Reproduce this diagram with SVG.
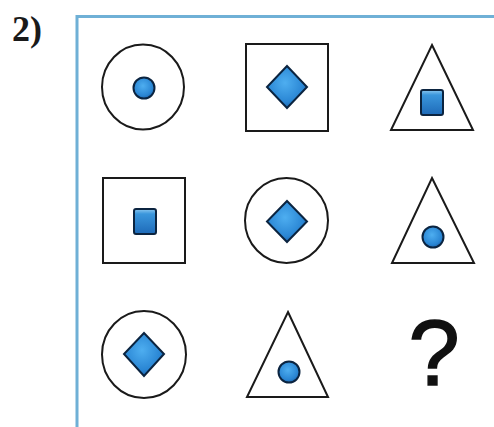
<svg xmlns="http://www.w3.org/2000/svg" width="494" height="427" viewBox="0 0 494 427">
<defs>
<radialGradient id="gb" cx="0.45" cy="0.4" r="0.65">
<stop offset="0" stop-color="#4eaef0"/>
<stop offset="0.7" stop-color="#2a86d4"/>
<stop offset="1" stop-color="#1a5fa8"/>
</radialGradient>
<linearGradient id="gs" x1="0" y1="0" x2="0" y2="1">
<stop offset="0" stop-color="#8cc8f0"/>
<stop offset="0.2" stop-color="#3a96dc"/>
<stop offset="1" stop-color="#1e6ab8"/>
</linearGradient>
</defs>
<style>
.fig{fill:none;stroke:#1a1a1a;stroke-width:2}
.blue{fill:url(#gb);stroke:#0b2440;stroke-width:2}
.blues{fill:url(#gs);stroke:#0b2440;stroke-width:2}
.frame{fill:none;stroke:#6fb0d6;stroke-width:3}
</style>
<rect width="494" height="427" fill="#ffffff"/>
<text x="12" y="41" font-family="Liberation Serif, serif" font-weight="bold" font-size="36" fill="#1a1a1a">2)</text>
<path class="frame" d="M77 427 V16.5 H494"/>
<g id="r1c1"><ellipse class="fig" cx="143" cy="87" rx="41" ry="42.5"/><circle class="blue" cx="144" cy="88" r="10.5"/></g>
<g id="r1c2"><rect class="fig" x="246" y="44" width="82" height="87"/><polygon class="blue" points="287,66 307,87 287,108 267,87"/></g>
<g id="r1c3"><polygon class="fig" points="432,45 473,130 391,130"/><rect class="blues" x="421" y="90" width="22" height="25" rx="2"/></g>
<g id="r2c1"><rect class="fig" x="103" y="178" width="82" height="85"/><rect class="blues" x="134" y="209" width="22" height="25" rx="2"/></g>
<g id="r2c2"><ellipse class="fig" cx="286.5" cy="220.5" rx="41.5" ry="42.5"/><polygon class="blue" points="287,201 307,221.5 287,242 267,221.5"/></g>
<g id="r2c3"><polygon class="fig" points="432,178 474,263 392,263"/><circle class="blue" cx="433" cy="237" r="10.5"/></g>
<g id="r3c1"><ellipse class="fig" cx="144" cy="354.5" rx="42" ry="43.5"/><polygon class="blue" points="144,333 164,354 144,376 124,354"/></g>
<g id="r3c2"><polygon class="fig" points="288,312 328,397 247,397"/><circle class="blue" cx="289" cy="372" r="10.5"/></g>
<g id="r3c3"><text x="434" y="385" text-anchor="middle" font-family="Liberation Sans, Arial, sans-serif" font-size="92" fill="#111111" stroke="#111111" stroke-width="1.5">?</text></g>
</svg>
